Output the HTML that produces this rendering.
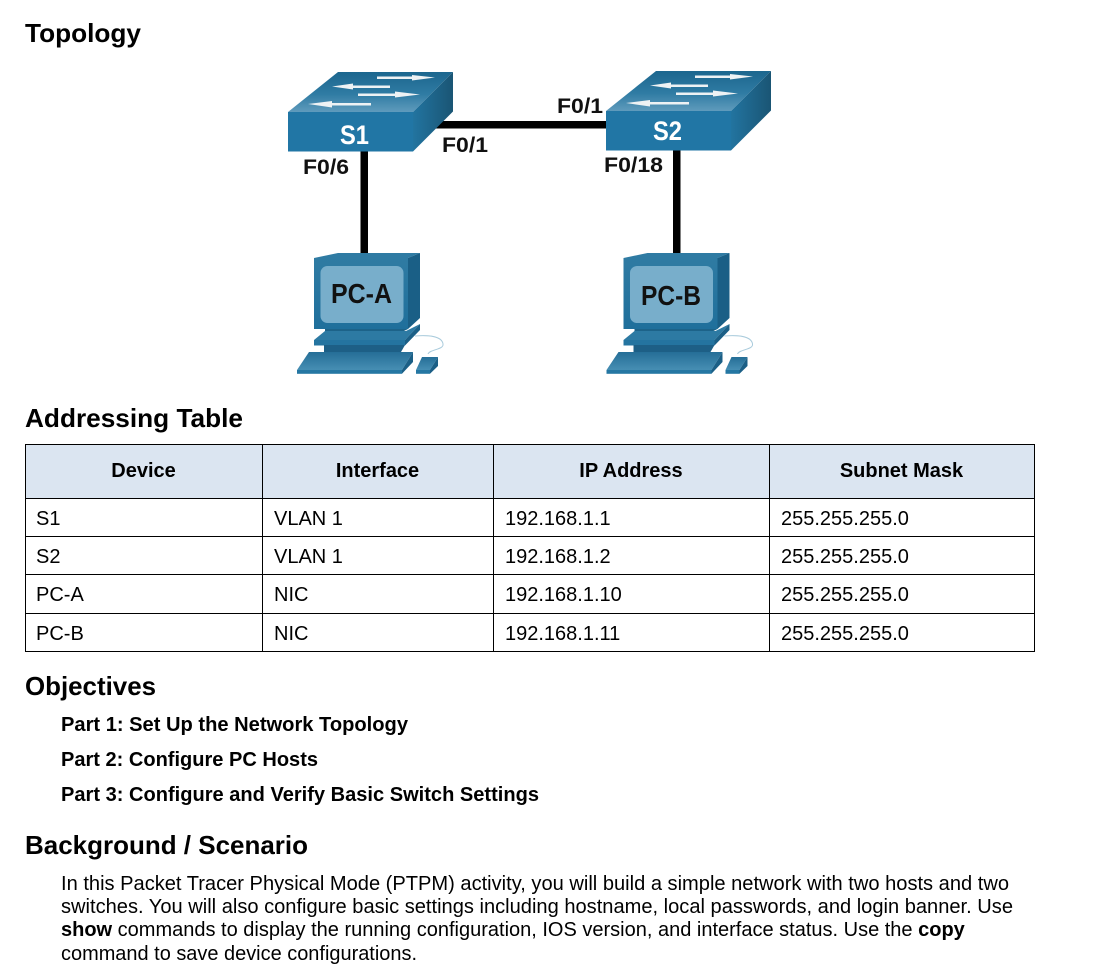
<!DOCTYPE html>
<html><head><meta charset="utf-8"><style>
html,body{margin:0;padding:0;background:#fff;width:1102px;height:975px;overflow:hidden}
svg{display:block}
text{font-family:"Liberation Sans",Arial,sans-serif;fill:#000}
.h{font-size:26px;font-weight:bold}
.c{font-size:20px}
.b{font-size:20px;font-weight:bold}
.l{font-size:21.500px;font-weight:bold;fill:#111}
</style></head><body>
<svg width="1102" height="975" viewBox="0 0 1102 975" xmlns="http://www.w3.org/2000/svg">
<defs>
<linearGradient id="top" x1="0" y1="1" x2="0" y2="0"><stop offset="0" stop-color="#5f9bbc"/><stop offset=".45" stop-color="#2f7ba3"/><stop offset="1" stop-color="#1c668e"/></linearGradient>
<linearGradient id="side" x1="0" y1="0" x2="1" y2="0"><stop offset="0" stop-color="#2274a0"/><stop offset="1" stop-color="#1a5574"/></linearGradient>
<linearGradient id="pcb" x1="0" y1="0" x2="0" y2="1"><stop offset="0" stop-color="#2f7ba3"/><stop offset="1" stop-color="#1f6f9b"/></linearGradient>
<linearGradient id="kb" x1="0" y1="0" x2="0" y2="1"><stop offset="0" stop-color="#256e97"/><stop offset="1" stop-color="#468eb3"/></linearGradient>
<g id="sw">
<polygon points="0,40 50,0 165,0 125,40" fill="url(#top)"/>
<rect x="0" y="40" width="125" height="39.500" fill="#2176a5"/>
<polygon points="125,40 165,0 165,39.500 125,79.500" fill="url(#side)"/>
<g fill="#eef2f4">
<polygon points="89,4.500 124,4.500 124,3 147,5.500 124,8.500 124,7 89,7"/>
<polygon points="44,14.500 65,11.500 65,13.500 102,13.500 102,16 65,16 65,17.500"/>
<polygon points="70,21.500 107,21.500 107,19.500 132,22.500 107,25.500 107,24 70,24"/>
<polygon points="20,32 44,29 44,31 83,31 83,33.500 44,33.500 44,35.500"/>
</g>
</g>
<g id="pc">
<path d="M415,336 C428,335 442,336 443,344 C444,350 430,349 428,354" fill="none" stroke="#a9cbdc" stroke-width="1"/>
<polygon points="314,258 338,253 420,253 408,258" fill="#2f7ba3"/>
<rect x="314" y="258" width="94" height="71" fill="url(#pcb)"/>
<polygon points="408,258 420,253 420,318 408,329" fill="#1a5f86"/>
<rect x="320.500" y="266" width="83" height="57" rx="7" fill="#78aecb"/>
<polygon points="325,329 408,329 400,333 325,333" fill="#1d6389"/>
<polygon points="314,340 325,331 406,331 420,324 405,340" fill="#2d7aa3"/>
<rect x="314" y="340" width="91" height="5.500" fill="#2474a0"/>
<polygon points="405,340 420,324 420,330 405,345.500" fill="#1b5f86"/>
<polygon points="324,345 405,345 401,352 324,352" fill="#1d5f86"/>
<polygon points="309,352 413,352 402,370 297,370" fill="url(#kb)"/>
<rect x="297" y="370" width="105" height="3.800" fill="#2577a3"/>
<polygon points="402,370 413,352 413,362 402,373.800" fill="#1b5f86"/>
<polygon points="422,357 438,357 430,370 416,370" fill="url(#kb)"/>
<rect x="416" y="370" width="14" height="3.800" fill="#2577a3"/>
<polygon points="430,370 438,357 438,366 430,373.800" fill="#1b5f86"/>
</g>
</defs>

<text class="h" x="25" y="42" textLength="116" lengthAdjust="spacingAndGlyphs">Topology</text>

<!-- links -->
<rect x="436" y="121" width="172" height="7.500" fill="#000"/>
<rect x="360.500" y="150" width="7.500" height="104" fill="#000"/>
<rect x="673" y="149" width="7.500" height="105" fill="#000"/>

<use href="#sw" x="288" y="72"/>
<use href="#sw" x="606" y="71"/>
<text x="354.500" y="144" text-anchor="middle" style="font-size:27px;font-weight:bold;fill:#fff" textLength="29" lengthAdjust="spacingAndGlyphs">S1</text>
<text x="667.500" y="140" text-anchor="middle" style="font-size:27px;font-weight:bold;fill:#fff" textLength="29" lengthAdjust="spacingAndGlyphs">S2</text>

<text class="l" x="303" y="174" textLength="46" lengthAdjust="spacingAndGlyphs">F0/6</text>
<text class="l" x="442" y="152" textLength="46" lengthAdjust="spacingAndGlyphs">F0/1</text>
<text class="l" x="557" y="113" textLength="46" lengthAdjust="spacingAndGlyphs">F0/1</text>
<text class="l" x="604" y="172" textLength="59" lengthAdjust="spacingAndGlyphs">F0/18</text>

<use href="#pc"/>
<use href="#pc" x="309.500"/>
<text x="361.500" y="303" text-anchor="middle" style="font-size:28px;font-weight:bold;fill:#111" textLength="61" lengthAdjust="spacingAndGlyphs">PC-A</text>
<text x="671" y="305" text-anchor="middle" style="font-size:28px;font-weight:bold;fill:#111" textLength="60" lengthAdjust="spacingAndGlyphs">PC-B</text>

<text class="h" x="25" y="427" textLength="218" lengthAdjust="spacingAndGlyphs">Addressing Table</text>

<!-- table -->
<rect x="25.500" y="444.500" width="1009" height="54" fill="#dbe5f1"/>
<g stroke="#000" stroke-width="1" fill="none">
<rect x="25.500" y="444.500" width="1009" height="207"/>
<path d="M25 498.500H1035M25 536.500H1035M25 574.500H1035M25 613.500H1035M262.500 444V652M493.500 444V652M769.500 444V652"/>
</g>
<g text-anchor="middle">
<text class="b" x="143.500" y="477">Device</text>
<text class="b" x="377.500" y="477">Interface</text>
<text class="b" x="631" y="477">IP Address</text>
<text class="b" x="901.500" y="477">Subnet Mask</text>
</g>
<g>
<text class="c" x="36" y="525">S1</text><text class="c" x="274" y="525">VLAN 1</text><text class="c" x="505" y="525">192.168.1.1</text><text class="c" x="781" y="525">255.255.255.0</text>
<text class="c" x="36" y="563">S2</text><text class="c" x="274" y="563">VLAN 1</text><text class="c" x="505" y="563">192.168.1.2</text><text class="c" x="781" y="563">255.255.255.0</text>
<text class="c" x="36" y="601">PC-A</text><text class="c" x="274" y="601">NIC</text><text class="c" x="505" y="601">192.168.1.10</text><text class="c" x="781" y="601">255.255.255.0</text>
<text class="c" x="36" y="640">PC-B</text><text class="c" x="274" y="640">NIC</text><text class="c" x="505" y="640">192.168.1.11</text><text class="c" x="781" y="640">255.255.255.0</text>
</g>

<text class="h" x="25" y="695" textLength="131" lengthAdjust="spacingAndGlyphs">Objectives</text>
<text class="b" x="61" y="731" textLength="347" lengthAdjust="spacingAndGlyphs">Part 1: Set Up the Network Topology</text>
<text class="b" x="61" y="766" textLength="257" lengthAdjust="spacingAndGlyphs">Part 2: Configure PC Hosts</text>
<text class="b" x="61" y="801" textLength="478" lengthAdjust="spacingAndGlyphs">Part 3: Configure and Verify Basic Switch Settings</text>

<text class="h" x="25" y="854" textLength="283" lengthAdjust="spacingAndGlyphs">Background / Scenario</text>

<text class="c" x="61" y="890" textLength="948" lengthAdjust="spacingAndGlyphs">In this Packet Tracer Physical Mode (PTPM) activity, you will build a simple network with two hosts and two</text>
<text class="c" x="61" y="913" textLength="952" lengthAdjust="spacingAndGlyphs">switches. You will also configure basic settings including hostname, local passwords, and login banner. Use</text>
<text class="c" x="61" y="936"><tspan font-weight="bold">show</tspan> commands to display the running configuration, IOS version, and interface status. Use the <tspan font-weight="bold">copy</tspan></text>
<text class="c" x="61" y="960" textLength="356" lengthAdjust="spacingAndGlyphs">command to save device configurations.</text>
</svg>
</body></html>
